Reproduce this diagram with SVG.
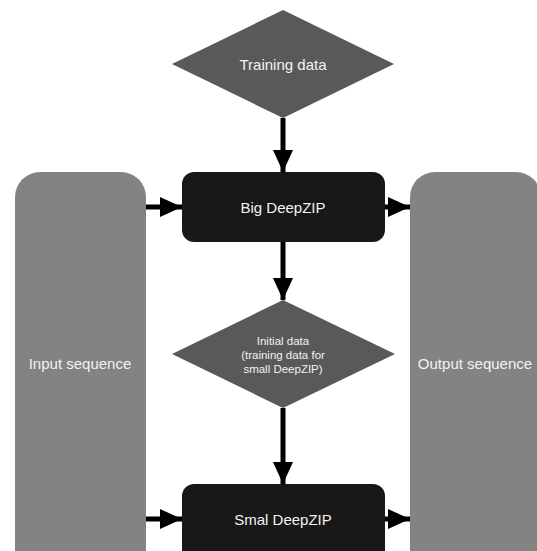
<svg xmlns="http://www.w3.org/2000/svg" width="537" height="551" viewBox="0 0 537 551">
<style>
.panel{fill:#838383}
.diam{fill:#595959}
.box{fill:#181818}
.t{font-family:"Liberation Sans",Arial,sans-serif;fill:#f2f2f2;text-anchor:middle;dominant-baseline:central}
.edge{stroke:#000;stroke-width:5;fill:none;marker-end:url(#ah)}
</style>
<defs>
<marker id="ah" markerUnits="userSpaceOnUse" markerWidth="22" markerHeight="20" refX="22" refY="10" orient="auto">
<path d="M0,0 L22,10 L0,20 Z" fill="#000"/>
</marker>
</defs>
<rect width="537" height="551" fill="#fff"/>
<g id="input">
<rect class="panel" x="15" y="172" width="131" height="420" rx="25"/>
<text class="t" x="80" y="363" font-size="15">Input sequence</text>
</g>
<g id="output">
<rect class="panel" x="410" y="172" width="131" height="420" rx="25"/>
<text class="t" x="475" y="363" font-size="15">Output sequence</text>
</g>
<g id="training">
<polygon class="diam" points="283,10 394,64 283,118 172,64"/>
<text class="t" x="283" y="64" font-size="15">Training data</text>
</g>
<g id="big">
<rect class="box" x="182" y="172" width="203" height="70" rx="12"/>
<text class="t" x="283" y="207" font-size="15">Big DeepZIP</text>
</g>
<g id="initial">
<polygon class="diam" points="283,300 395,354 283,408 172,354"/>
<text class="t" x="283" y="341" font-size="11.5">Initial data</text>
<text class="t" x="283" y="355" font-size="11.5">(training data for</text>
<text class="t" x="283" y="369" font-size="11.5">small DeepZIP)</text>
</g>
<g id="small">
<rect class="box" x="182" y="484" width="203" height="100" rx="12"/>
<text class="t" x="283" y="519" font-size="15">Smal DeepZIP</text>
</g>
<g id="connectors">
<line class="edge" x1="283" y1="118" x2="283" y2="172"/>
<line class="edge" x1="283" y1="242" x2="283" y2="300"/>
<line class="edge" x1="283" y1="408" x2="283" y2="484"/>
<line class="edge" x1="146" y1="207" x2="182" y2="207"/>
<line class="edge" x1="385" y1="207" x2="410" y2="207"/>
<line class="edge" x1="146" y1="519" x2="182" y2="519"/>
<line class="edge" x1="385" y1="519" x2="410" y2="519"/>
</g>
</svg>
